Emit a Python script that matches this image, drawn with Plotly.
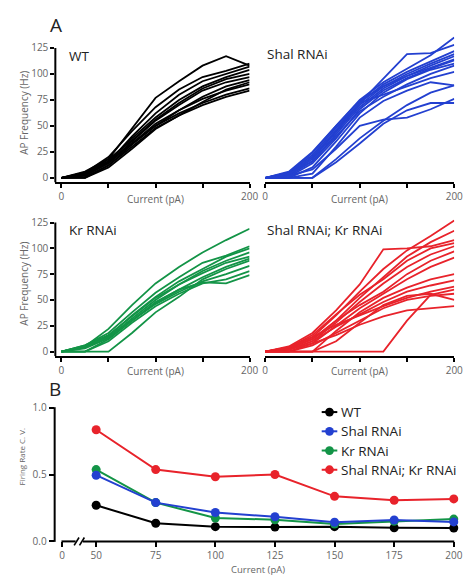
import plotly.graph_objects as go

W, H = 473, 585

# ---------------- data ----------------
CURRENT = [0, 25, 50, 75, 100, 125, 150, 175, 200]

WT = [
    [0, 3, 18, 48, 77, 93, 108, 117, 108],
    [0, 5, 20, 45, 68, 85, 97, 103, 110],
    [0, 2, 15, 40, 62, 80, 93, 100, 107],
    [0, 4, 16, 38, 58, 75, 88, 97, 104],
    [0, 6, 18, 36, 56, 72, 86, 95, 100],
    [0, 2, 14, 35, 55, 70, 84, 92, 97],
    [0, 0, 12, 32, 50, 65, 78, 88, 94],
    [0, 3, 14, 33, 52, 65, 76, 84, 90],
    [0, 5, 16, 33, 50, 62, 72, 80, 86],
    [0, 1, 12, 30, 48, 60, 70, 78, 84],
    [0, 0, 10, 28, 47, 60, 73, 85, 92],
]

SHAL = [
    [0, 5, 22, 48, 72, 96, 119, 120, 128],
    [0, 6, 25, 50, 75, 92, 105, 118, 135],
    [0, 4, 20, 45, 72, 90, 102, 112, 122],
    [0, 3, 18, 44, 70, 88, 100, 110, 119],
    [0, 2, 16, 42, 68, 86, 98, 108, 117],
    [0, 5, 24, 50, 74, 88, 98, 106, 114],
    [0, 1, 14, 38, 66, 84, 96, 105, 113],
    [0, 0, 10, 35, 62, 82, 95, 104, 110],
    [0, 3, 20, 46, 72, 80, 88, 96, 102],
    [0, 0, 4, 30, 58, 74, 84, 92, 89],
    [0, 0, 0, 18, 38, 55, 70, 82, 89],
    [0, 0, 0, 15, 33, 52, 65, 72, 72],
    [0, 2, 8, 28, 50, 56, 58, 66, 76],
    [0, 4, 16, 40, 64, 78, 90, 100, 108],
]

KR = [
    [0, 5, 22, 45, 66, 82, 96, 108, 119],
    [0, 6, 18, 38, 57, 72, 86, 93, 102],
    [0, 5, 15, 35, 53, 68, 80, 92, 100],
    [0, 4, 14, 32, 50, 65, 78, 88, 96],
    [0, 6, 16, 34, 52, 65, 76, 86, 92],
    [0, 0, 12, 30, 47, 60, 72, 82, 90],
    [0, 3, 13, 30, 46, 58, 68, 75, 83],
    [0, 0, 10, 28, 44, 56, 66, 70, 78],
    [0, 5, 14, 30, 48, 60, 67, 66, 74],
    [0, 0, 0, 18, 38, 53, 70, 80, 88],
]

SHAL_KR = [
    [0, 4, 14, 35, 58, 80, 98, 112, 127],
    [0, 3, 12, 30, 52, 72, 92, 106, 117],
    [0, 5, 18, 40, 65, 99, 100, 102, 108],
    [0, 4, 16, 36, 55, 70, 88, 100, 105],
    [0, 2, 10, 28, 48, 66, 82, 94, 102],
    [0, 3, 12, 30, 45, 58, 75, 88, 97],
    [0, 0, 8, 25, 42, 56, 70, 82, 91],
    [0, 0, 0, 20, 38, 52, 62, 70, 75],
    [0, 2, 10, 24, 36, 48, 58, 64, 69],
    [0, 4, 14, 26, 35, 44, 52, 58, 63],
    [0, 0, 6, 18, 30, 42, 50, 54, 56],
    [0, 2, 8, 16, 26, 34, 40, 42, 44],
    [0, 0, 0, 0, 0, 0, 30, 55, 60],
    [0, 0, 0, 10, 28, 45, 54, 56, 50],
]

B_CURRENT = [50, 75, 100, 125, 150, 175, 200]
CV_WT = [0.27, 0.136, 0.11, 0.107, 0.11, 0.102, 0.10]
CV_KR = [0.537, 0.29, 0.175, 0.162, 0.13, 0.15, 0.167]
CV_SHAL = [0.495, 0.29, 0.216, 0.184, 0.143, 0.16, 0.146]
CV_SHAL_KR = [0.835, 0.537, 0.483, 0.50, 0.337, 0.308, 0.318]

NAMES = ["WT", "Shal RNAi", "Kr RNAi", "Shal RNAi; Kr RNAi"]
COLORS = {"WT": "#000000", "Shal RNAi": "#2340d0",
          "Kr RNAi": "#139447", "Shal RNAi; Kr RNAi": "#e8232b"}

A_XTICKS = [0, 50, 100, 150, 200]
A_XTEXT = ["0", "", "", "", "200"]
A_YTICKS = [0, 25, 50, 75, 100, 125]
B_XTICKS = [35.7, 50, 75, 100, 125, 150, 175, 200]
B_XTEXT = ["0", "50", "75", "100", "125", "150", "175", "200"]
B_YTICKS = [0, 0.5, 1.0]
B_YTEXT = ["0.0", "0.5", "1.0"]

# ---------------- helpers ----------------
def fx(p):
    return p / W


def fy(p):
    return 1 - p / H


FONT = "Open Sans"
TICKC = "#666666"
TEXTC = "#222222"

fig = go.Figure()

panels = [
    ("x", "y", WT, COLORS["WT"]),
    ("x2", "y2", SHAL, COLORS["Shal RNAi"]),
    ("x3", "y3", KR, COLORS["Kr RNAi"]),
    ("x4", "y4", SHAL_KR, COLORS["Shal RNAi; Kr RNAi"]),
]
for xa, ya, series, col in panels:
    for s in series:
        fig.add_trace(go.Scatter(x=CURRENT, y=s, mode="lines", xaxis=xa, yaxis=ya,
                                 line=dict(color=col, width=1.8), showlegend=False,
                                 hoverinfo="skip"))

for name, vals in [("WT", CV_WT), ("Kr RNAi", CV_KR), ("Shal RNAi", CV_SHAL),
                   ("Shal RNAi; Kr RNAi", CV_SHAL_KR)]:
    fig.add_trace(go.Scatter(x=B_CURRENT, y=vals, mode="lines+markers", xaxis="x5", yaxis="y5",
                             line=dict(color=COLORS[name], width=2),
                             marker=dict(color=COLORS[name], size=9),
                             cliponaxis=False, showlegend=False, name=name))

# domains (pixel based)
top_y = [fy(179.8), fy(29.2)]
bot_y = [fy(357.8), fy(208.1)]
left_x = [fx(53.7), fx(253)]
right_x = [fx(269), fx(463)]
b_x = [fx(53), fx(463)]
b_y = [fy(547.5), fy(410.5)]

tickfont = dict(family=FONT, size=10, color=TICKC)

def a_xaxis(domain, anchor, rng):
    return dict(domain=domain, anchor=anchor, range=rng, tickvals=A_XTICKS, ticktext=A_XTEXT,
                ticks="outside", ticklen=4, tickwidth=1.5, tickcolor="black",
                showline=True, linecolor="black", linewidth=2, showgrid=False,
                zeroline=False, tickfont=tickfont, fixedrange=True)


def a_yaxis(domain, anchor, visible):
    return dict(domain=domain, anchor=anchor, range=[-4.5, 137], tickvals=A_YTICKS,
                ticks="outside" if visible else "", ticklen=4, tickwidth=1.5, tickcolor="black",
                showline=False, showgrid=False, zeroline=False, showticklabels=visible,
                tickfont=tickfont, fixedrange=True)


fig.update_layout(
    width=W, height=H, margin=dict(l=0, r=0, t=0, b=0),
    paper_bgcolor="white", plot_bgcolor="white", showlegend=False,
    font=dict(family=FONT, color=TEXTC),
    xaxis=a_xaxis(left_x, "y", [-6.5, 200]),
    yaxis=a_yaxis(top_y, "x", True),
    xaxis2=a_xaxis(right_x, "y2", [0, 200]),
    yaxis2=a_yaxis(top_y, "x2", False),
    xaxis3=a_xaxis(left_x, "y3", [-6.5, 200]),
    yaxis3=a_yaxis(bot_y, "x3", True),
    xaxis4=a_xaxis(right_x, "y4", [0, 200]),
    yaxis4=a_yaxis(bot_y, "x4", False),
    xaxis5=dict(domain=b_x, anchor="y5", range=[32.6, 200.2], tickvals=B_XTICKS, ticktext=B_XTEXT,
                ticks="outside", ticklen=5, tickwidth=1.5, tickcolor="black", showline=False,
                showgrid=False, zeroline=False, tickfont=tickfont, fixedrange=True),
    yaxis5=dict(domain=b_y, anchor="x5", range=[0, 1.0], tickvals=B_YTICKS, ticktext=B_YTEXT,
                ticks="outside", ticklen=5, tickwidth=1.5, tickcolor="black", showline=False,
                showgrid=False, zeroline=False, tickfont=tickfont, fixedrange=True),
)

shapes = []
# y-axis lines for panel A (left column)
for ya in ["y", "y3"]:
    shapes.append(dict(type="line", xref="x domain" if ya == "y" else "x3 domain", yref=ya,
                       x0=0, x1=0, y0=-4.5, y1=125, line=dict(color="black", width=2)))
# panel B axes
shapes.append(dict(type="line", xref="paper", yref="paper", x0=fx(53), x1=fx(53),
                   y0=fy(548), y1=fy(410), line=dict(color="black", width=2)))
shapes.append(dict(type="line", xref="paper", yref="paper", x0=fx(60), x1=fx(74.5),
                   y0=fy(547.5), y1=fy(547.5), line=dict(color="black", width=2)))
shapes.append(dict(type="line", xref="paper", yref="paper", x0=fx(82), x1=fx(463),
                   y0=fy(547.5), y1=fy(547.5), line=dict(color="black", width=2)))
for bx in [73, 78.5]:
    shapes.append(dict(type="line", xref="paper", yref="paper", x0=fx(bx), x1=fx(bx + 5),
                       y0=fy(551.5), y1=fy(543.5), line=dict(color="black", width=1.6)))

annotations = []

def txt(s, x, y, size, color=TEXTC, xanchor="left", angle=0):
    annotations.append(dict(text=s, x=fx(x), y=fy(y), xref="paper", yref="paper",
                            xanchor=xanchor, yanchor="middle", showarrow=False, textangle=angle,
                            font=dict(family=FONT, size=size, color=color)))

txt("A", 46, 18, 19)
txt("B", 45, 391, 19)
txt("WT", 66, 50, 13.5)
txt("Shal RNAi", 269, 48, 13.5)
txt("Kr RNAi", 66, 228, 13.5)
txt("Shal RNAi; Kr RNAi", 269, 228, 13.5)
for cx in [156, 366]:
    txt("Current (pA)", cx, 197, 10, TICKC, "center")
    txt("Current (pA)", cx, 373, 10, TICKC, "center")
txt("Current (pA)", 262, 576, 9.5, TICKC, "center")
txt("AP Frequency (Hz)", 22, 108, 10, TICKC, "center", -90)
txt("AP Frequency (Hz)", 22, 283, 10, TICKC, "center", -90)
txt("Firing Rate C. V.", 19, 461, 8, TICKC, "center", -90)

# legend for panel B
for i, name in enumerate(NAMES):
    yy = 415 + i * 19.7
    col = COLORS[name]
    shapes.append(dict(type="line", xref="paper", yref="paper", x0=fx(327), x1=fx(343),
                       y0=fy(yy), y1=fy(yy), line=dict(color=col, width=2)))
    shapes.append(dict(type="circle", xref="paper", yref="paper", x0=fx(330.5), x1=fx(339.5),
                       y0=fy(yy + 4.5), y1=fy(yy - 4.5), fillcolor=col, line=dict(color=col, width=0)))
    txt(name, 345, yy, 13.5)

fig.update_layout(shapes=shapes, annotations=annotations)
fig.write_html("out.html")
